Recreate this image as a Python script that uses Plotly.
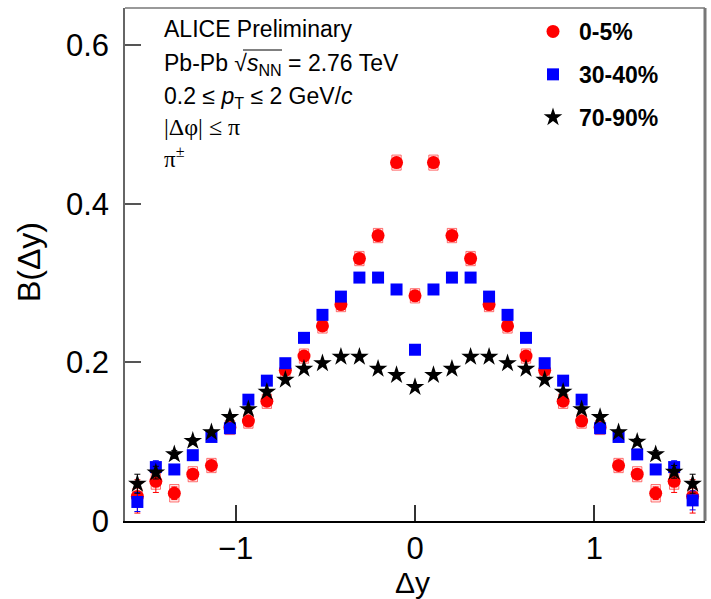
import plotly.graph_objects as go

# ---------------- data ----------------
dy = [-1.548, -1.445, -1.342, -1.239, -1.135, -1.032, -0.929, -0.826, -0.723, -0.619,
      -0.516, -0.413, -0.310, -0.206, -0.103, 0.000, 0.103, 0.206, 0.310, 0.413,
      0.516, 0.619, 0.723, 0.826, 0.929, 1.032, 1.135, 1.239, 1.342, 1.445, 1.548]

b_0_5 = [0.031, 0.050, 0.035, 0.059, 0.070, 0.118, 0.126, 0.151, 0.190, 0.208,
         0.246, 0.273, 0.331, 0.360, 0.452, 0.284, 0.452, 0.360, 0.331, 0.273,
         0.246, 0.208, 0.190, 0.151, 0.126, 0.118, 0.070, 0.059, 0.035, 0.050, 0.031]
b_0_5_stat = [0.021, 0.014, 0.008, 0.006, 0.005, 0.005, 0.004, 0.004, 0.004, 0.004,
              0.004, 0.004, 0.004, 0.004, 0.004, 0.004, 0.004, 0.004, 0.004, 0.004,
              0.004, 0.004, 0.004, 0.004, 0.004, 0.005, 0.005, 0.006, 0.008, 0.014, 0.021]
b_0_5_sys = [0.010, 0.010, 0.011, 0.0095, 0.009, 0.009, 0.009, 0.009, 0.009, 0.009,
             0.009, 0.009, 0.009, 0.009, 0.0095, 0.009, 0.0095, 0.009, 0.009, 0.009,
             0.009, 0.009, 0.009, 0.009, 0.009, 0.009, 0.009, 0.0095, 0.011, 0.010, 0.010]

b_30_40 = [0.024, 0.068, 0.065, 0.083, 0.106, 0.117, 0.153, 0.177, 0.199, 0.231,
           0.260, 0.283, 0.307, 0.307, 0.292, 0.216, 0.292, 0.307, 0.307, 0.283,
           0.260, 0.231, 0.199, 0.177, 0.153, 0.117, 0.106, 0.084, 0.065, 0.068, 0.026]
b_30_40_stat = [0.012, 0.008, 0.005, 0.004, 0.003, 0.003, 0.003, 0.003, 0.003, 0.003,
                0.003, 0.003, 0.003, 0.003, 0.003, 0.003, 0.003, 0.003, 0.003, 0.003,
                0.003, 0.003, 0.003, 0.003, 0.003, 0.003, 0.003, 0.004, 0.005, 0.008, 0.012]

b_70_90 = [0.047, 0.061, 0.084, 0.101, 0.112, 0.131, 0.141, 0.163, 0.178, 0.192,
           0.199, 0.207, 0.207, 0.192, 0.184, 0.169, 0.184, 0.192, 0.207, 0.207,
           0.199, 0.192, 0.178, 0.163, 0.141, 0.131, 0.112, 0.100, 0.084, 0.062, 0.047]
b_70_90_stat = [0.012, 0.008, 0.005, 0.004, 0.003, 0.003, 0.003, 0.003, 0.003, 0.003,
                0.003, 0.003, 0.003, 0.003, 0.003, 0.003, 0.003, 0.003, 0.003, 0.003,
                0.003, 0.003, 0.003, 0.003, 0.003, 0.003, 0.003, 0.004, 0.005, 0.008, 0.012]

series_names = ["0-5%", "30-40%", "70-90%"]
y_ticks = [0, 0.2, 0.4, 0.6]
y_tick_text = ["0", "0.2", "0.4", "0.6"]
x_ticks = [-1, 0, 1]
x_tick_text = ["\u22121", "0", "1"]

# ---------------- layout helpers ----------------
W, H = 711, 599
L, R, T, B = 125, 6, 8, 78
PW, PH = W - L - R, H - T - B


def px(x):
    return (x - L) / PW


def py(y):
    return (H - B - y) / PH


FONT = "Liberation Sans, Arial, Helvetica, sans-serif"
SERIF = "Liberation Serif, Times New Roman, serif"

fig = go.Figure()

# systematic boxes for 0-5%
box_hw = 0.026
for x, y, s in zip(dy, b_0_5, b_0_5_sys):
    fig.add_shape(type="rect", xref="x", yref="y", x0=x - box_hw, x1=x + box_hw,
                  y0=y - s, y1=y + s, line=dict(color="rgba(255,40,40,0.65)", width=1),
                  fillcolor="rgba(255,200,200,0.35)", layer="below")

fig.add_trace(go.Scatter(
    x=dy, y=b_0_5, mode="markers", name="<b>" + series_names[0] + "</b>",
    legendgroup="a", cliponaxis=False,
    marker=dict(symbol="circle", size=13, color="#ff0000"),
    error_y=dict(type="data", array=b_0_5_stat, color="#ff0000", thickness=1, width=3),
))
fig.add_trace(go.Scatter(
    x=dy, y=b_30_40, mode="markers", name="<b>" + series_names[1] + "</b>",
    legendgroup="b", cliponaxis=False,
    marker=dict(symbol="square", size=12, color="#0000ff"),
    error_y=dict(type="data", array=b_30_40_stat, color="#0000ff", thickness=1, width=3),
))
fig.add_trace(go.Scatter(
    x=dy, y=b_70_90, mode="markers", name="<b>" + series_names[2] + "</b>",
    legendgroup="c", cliponaxis=False,
    marker=dict(symbol="star", size=14, color="#000000"),
    error_y=dict(type="data", array=b_70_90_stat, color="#000000", thickness=1, width=3),
))

# frame: top and right lines
fig.add_shape(type="line", xref="paper", yref="paper", x0=0, x1=1, y0=1, y1=1,
              line=dict(color="#777777", width=1.5))
fig.add_shape(type="line", xref="paper", yref="paper", x0=1, x1=1, y0=0, y1=1,
              line=dict(color="#777777", width=3))
# overline of the square root
fig.add_shape(type="line", xref="paper", yref="paper", x0=px(243), x1=px(282),
              y0=py(50), y1=py(50), line=dict(color="black", width=1))

ann = []


def text(x, y, s, size, family=FONT, xanchor="left", color="black", angle=0, yanchor="middle"):
    ann.append(dict(x=px(x), y=py(y), xref="paper", yref="paper", text=s, showarrow=False,
                    xanchor=xanchor, yanchor=yanchor, textangle=angle,
                    font=dict(size=size, family=family, color=color)))


text(162, 29, "ALICE Preliminary", 23)
text(162, 64, "Pb-Pb \u221A<i>s</i><sub>NN</sub> = 2.76 TeV", 23)
text(162, 97, "0.2 \u2264 <i>p</i><sub>T</sub> \u2264 2 GeV/<i>c</i>", 23)
text(162, 127, "|\u0394\u03C6| \u2264 \u03C0", 24, family=SERIF)
text(162, 157, "\u03C0<sup>\u00B1</sup>", 23, family=SERIF)

text(412, 583, "\u0394y", 30, xanchor="center")
text(29, 262, "B(\u0394y)", 32, xanchor="center", angle=-90)
text(0, 605, "ALI-PREL-150000", 14, family="Liberation Mono, Courier New, monospace",
     color="#9a9a9a")

fig.update_layout(
    width=W, height=H,
    margin=dict(l=L, r=R, t=T, b=B, pad=0, autoexpand=False),
    paper_bgcolor="white", plot_bgcolor="white",
    font=dict(family=FONT, color="black"),
    annotations=ann,
    showlegend=True,
    legend=dict(x=px(527), y=py(10), xanchor="left", yanchor="top",
                font=dict(size=23, family=FONT, color="black"),
                bgcolor="rgba(0,0,0,0)", tracegroupgap=10, itemsizing="trace",
                itemwidth=42),
    xaxis=dict(range=[-1.617, 1.617], showgrid=False, zeroline=False,
               showline=True, linecolor="black", linewidth=2, mirror=False,
               ticks="inside", ticklen=16, tickwidth=1.5, tickcolor="#333333",
               tickvals=x_ticks, ticktext=x_tick_text,
               tickfont=dict(size=31, family=FONT, color="black"), ticklabelstandoff=-1),
    yaxis=dict(range=[0, 0.647], showgrid=False, zeroline=False,
               showline=True, linecolor="#666666", linewidth=1.5, mirror=False,
               ticks="inside", ticklen=16, tickwidth=1.5, tickcolor="#555555",
               tickvals=y_ticks, ticktext=y_tick_text,
               tickfont=dict(size=31, family=FONT, color="black"), ticklabelstandoff=8),
)

fig.write_html("out.html", config={"displayModeBar": False},
               post_script="document.body.style.margin='0px';document.body.style.overflow='hidden';")
